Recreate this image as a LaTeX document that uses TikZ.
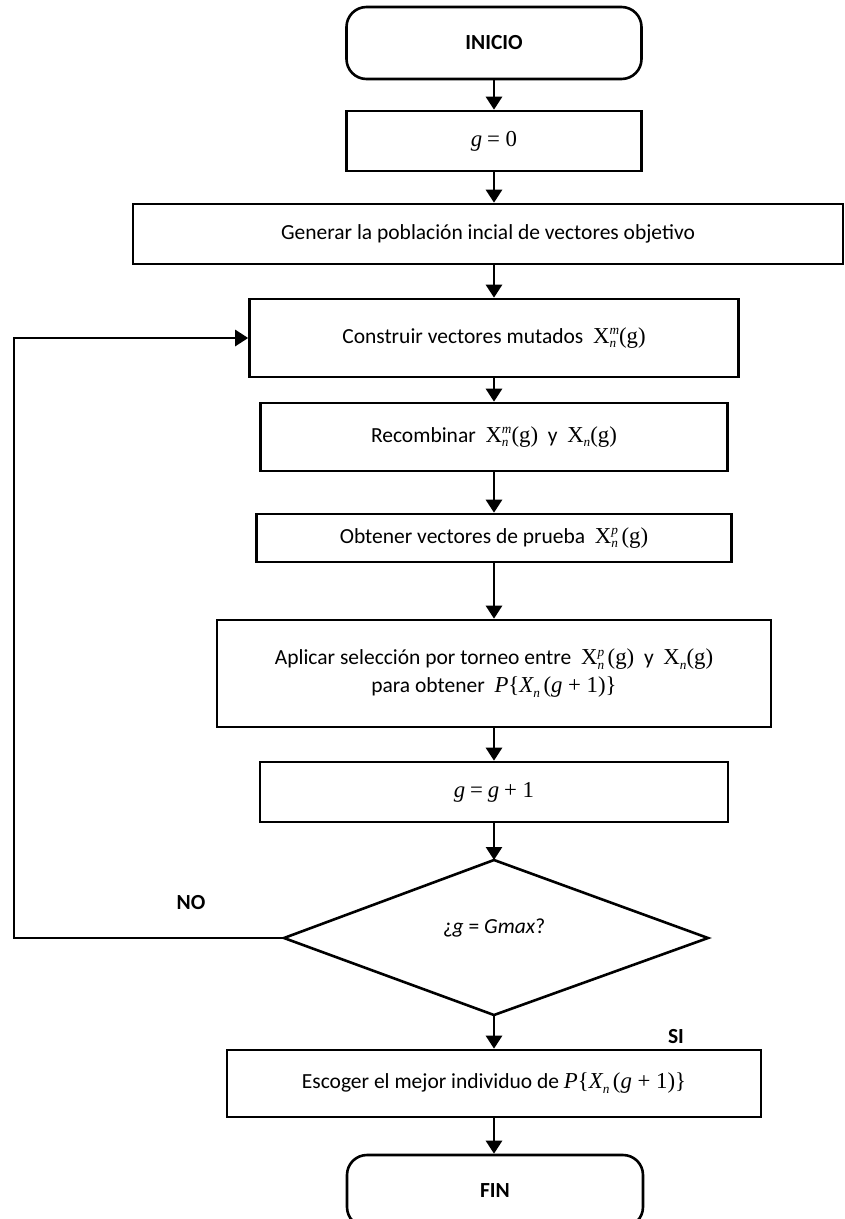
\documentclass[tikz,border=0pt]{standalone}
\usepackage{fontspec}
\setmainfont{Carlito}
\newfontfamily\mf[Scale=1.06]{Liberation Serif}
\usetikzlibrary{arrows.meta}
\newcommand\ssz{\mf\itshape\fontsize{12.5}{12.5}\selectfont}
\newlength\supw
\newcommand\Xsup[1]{{\mf X}\settowidth\supw{\ssz #1}\makebox[\supw][l]{\rlap{\raisebox{8.5pt}{\ssz #1}}\raisebox{-4.5pt}{\ssz n}}}
\newcommand\Xn{{\mf X}\raisebox{-4.5pt}{\ssz n}}
\newcommand\gpar{{\mf (g)}}
\newcommand\Pset{{\mf\itshape P}{\mf\{}{\mf\itshape X}\raisebox{-4.5pt}{\ssz n}\,{\mf (}{\mf\itshape g}{\mf\ + 1)\}}}
\begin{document}
\begin{tikzpicture}[x=1pt,y=-1pt,line width=2.6pt,
  box/.style={draw,rectangle,inner sep=0pt,align=center,font=\fontsize{21.5}{25}\selectfont},
  term/.style={box,rounded corners=20pt,font=\fontsize{21.5}{25}\selectfont\bfseries},
  arr/.style={-{Triangle[length=13pt,width=16pt]}},
  lbl/.style={font=\fontsize{21.5}{25}\selectfont\bfseries}]
\useasboundingbox (0,0) rectangle (845,1219);
\node[term,minimum width=295pt,minimum height=72pt] (ini) at (494,43) {INICIO};
\node[box,minimum width=295pt,minimum height=60pt] (g0) at (494,141) {{\mf\itshape g} {\mf = 0}};
\node[box,minimum width=710pt,minimum height=60pt] (gen) at (488,234) {Generar la población incial de vectores objetivo};
\node[box,minimum width=489pt,minimum height=78pt] (cons) at (494,338) {Construir vectores mutados \ \Xsup{m}\gpar};
\node[box,minimum width=467pt,minimum height=68pt] (rec) at (494,437) {Recombinar \ \Xsup{m}\gpar\ \ y \ \Xn\gpar};
\node[box,minimum width=475pt,minimum height=48pt] (obt) at (494,538) {Obtener vectores de prueba \ \Xsup{p}\,\gpar};
\node[box,minimum width=554pt,minimum height=107pt] (apl) at (494,673.5) {Aplicar selección por torneo entre \ \Xsup{p}\,\gpar\ \ y \ \Xn\gpar\\[3pt] para obtener \ \Pset};
\node[box,minimum width=468pt,minimum height=60pt] (g1) at (494,792) {{\mf\itshape g} {\mf =} {\mf\itshape g} {\mf + 1}};
\coordinate (dt) at (494,860);
\coordinate (dr) at (708,938);
\coordinate (db) at (494,1015);
\coordinate (dl) at (284,938);
\draw (dt) -- (dr) -- (db) -- (dl) -- cycle;
\node[font=\fontsize{21.5}{25}\selectfont] (dq) at (494,928) {¿\textit{g} = \textit{Gmax}?};
\node[box,minimum width=534pt,minimum height=67pt] (esc) at (494,1083.5) {Escoger el mejor individuo de \Pset};
\node[term,minimum width=296pt,minimum height=72pt] (fin) at (495,1191) {FIN};
\node[lbl] (no) at (191,903) {NO};
\node[lbl] (si) at (676,1037) {SI};
\coordinate (lx) at (14,938);
\draw[arr] (ini.south) -- (g0.north);
\draw[arr] (g0.south) -- (g0.south |- gen.north);
\draw[arr] (g0.south |- gen.south) -- (cons.north);
\draw[arr] (cons.south) -- (rec.north);
\draw[arr] (rec.south) -- (obt.north);
\draw[arr] (obt.south) -- (apl.north);
\draw[arr] (apl.south) -- (g1.north);
\draw[arr] (g1.south) -- (dt);
\draw[arr] (db) -- (esc.north);
\draw[arr] (esc.south) -- (esc.south |- fin.north);
\draw[arr] (dl) -- (lx) |- (cons.west);
\end{tikzpicture}
\end{document}
